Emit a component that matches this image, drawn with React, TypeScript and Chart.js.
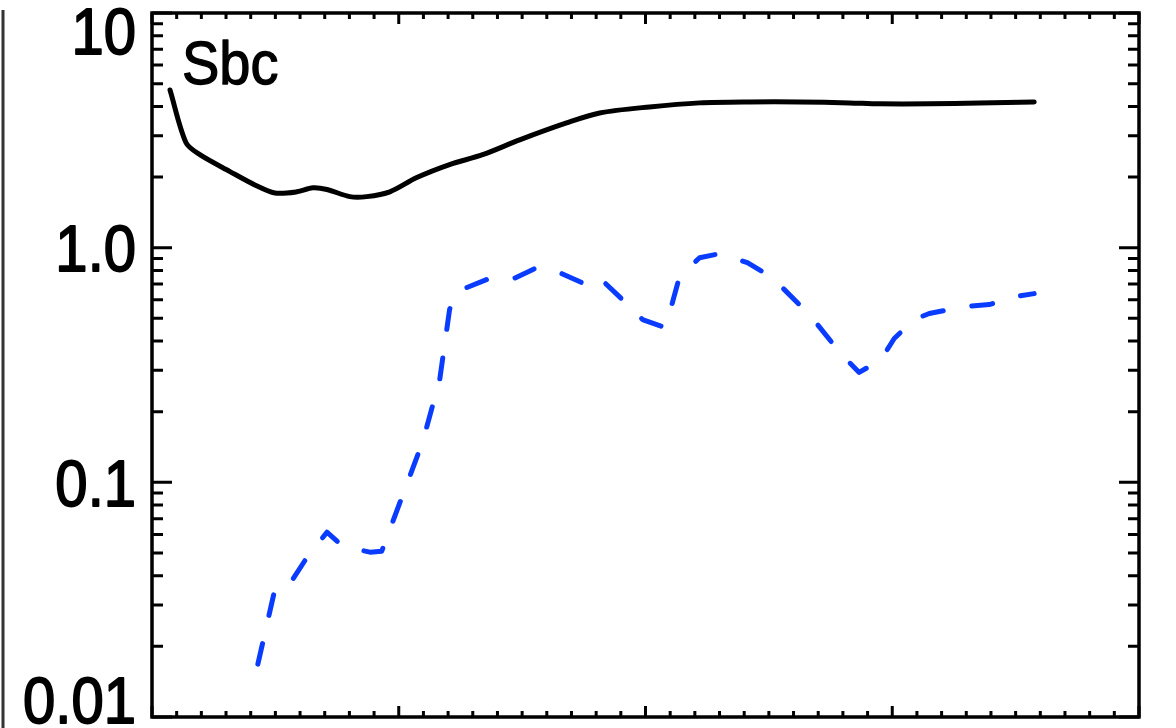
import React, { useEffect, useRef } from "react";
import { Chart, registerables } from "chart.js";

Chart.register(...registerables);

// ---- data ----
const solidX = [0.073, 0.138, 0.194, 0.316, 0.417, 0.498, 0.587, 0.652, 0.709, 0.802, 0.870, 0.964, 1.073, 1.206, 1.340, 1.490, 1.680, 1.814, 2.016, 2.219, 2.421, 2.623, 2.826, 2.947, 3.150, 3.352, 3.575];
const solidY = [4.7, 2.80, 2.49, 2.11, 1.85, 1.71, 1.73, 1.80, 1.77, 1.65, 1.65, 1.73, 1.99, 2.26, 2.49, 2.88, 3.40, 3.75, 3.98, 4.14, 4.18, 4.18, 4.14, 4.10, 4.10, 4.14, 4.18];

const dashX = [0.429, 0.502, 0.571, 0.623, 0.709, 0.773, 0.883, 0.931, 1.097, 1.166, 1.206, 1.227, 1.255, 1.356, 1.457, 1.559, 1.652, 1.741, 1.785, 1.834, 1.915, 1.988, 2.077, 2.109, 2.138, 2.219, 2.300, 2.413, 2.514, 2.664, 2.798, 2.866, 2.955, 3.008, 3.089, 3.150, 3.291, 3.393, 3.502, 3.575];
const dashY = [0.0168, 0.0365, 0.0387, 0.047, 0.0613, 0.0534, 0.0504, 0.0509, 0.149, 0.274, 0.545, 0.631, 0.663, 0.731, 0.731, 0.822, 0.783, 0.710, 0.760, 0.710, 0.589, 0.494, 0.457, 0.583, 0.753, 0.906, 0.943, 0.863, 0.745, 0.519, 0.347, 0.294, 0.334, 0.410, 0.494, 0.524, 0.561, 0.572, 0.619, 0.637];

const yTickValues = [10, 1, 0.1, 0.01];
const yTickLabels = ["10", "1.0", "0.1", "0.01"];
const xMajorTicks = [0, 1, 2, 3, 4];
const panelLabel = "Sbc";

const X_MIN = 0;
const X_MAX = 4;
const Y_MIN = 0.01;
const Y_MAX = 10;

const FONT = "'Liberation Sans', Arial, Helvetica, sans-serif";

const framePlugin = {
  id: "idlFrame",
  afterDatasetsDraw(chart: any) {
    const ctx = chart.ctx as CanvasRenderingContext2D;
    const { left, right, top, bottom } = chart.chartArea;
    const xs = chart.scales.x;
    const ys = chart.scales.y;
    ctx.save();
    ctx.strokeStyle = "#000";
    ctx.lineCap = "butt";

    // y ticks (log): majors and minors, inward on both sides
    ctx.lineWidth = 3;
    for (let k = -2; k <= 1; k++) {
      for (let m = 1; m <= 9; m++) {
        const v = m * Math.pow(10, k);
        if (v < Y_MIN - 1e-9 || v > Y_MAX + 1e-9) continue;
        const py = ys.getPixelForValue(v);
        const len = m === 1 ? 20 : 11;
        ctx.beginPath();
        ctx.moveTo(left, py);
        ctx.lineTo(left + len, py);
        ctx.moveTo(right, py);
        ctx.lineTo(right - len, py);
        ctx.stroke();
      }
    }
    // x ticks: majors and minors (0.1), inward top and bottom
    for (let i = 0; i <= Math.round((X_MAX - X_MIN) * 10); i++) {
      const v = X_MIN + i / 10;
      const isMajor = xMajorTicks.some((t) => Math.abs(t - v) < 1e-6);
      const px = xs.getPixelForValue(v);
      const len = isMajor ? 11 : 6;
      ctx.beginPath();
      ctx.moveTo(px, bottom);
      ctx.lineTo(px, bottom - len);
      ctx.moveTo(px, top);
      ctx.lineTo(px, top + len);
      ctx.stroke();
    }
    // frame
    ctx.lineWidth = 3.5;
    ctx.strokeRect(left, top, right - left, bottom - top);

    // fragment of the neighbouring panel's right axis
    ctx.strokeStyle = "#333";
    ctx.lineWidth = 3;
    ctx.beginPath();
    ctx.moveTo(3, top - 3);
    ctx.lineTo(3, chart.height);
    ctx.stroke();

    // y tick labels
    ctx.fillStyle = "#000";
    ctx.strokeStyle = "#000";
    ctx.lineWidth = 1.6;
    ctx.lineJoin = "round";
    ctx.textAlign = "right";
    ctx.textBaseline = "alphabetic";
    const fs = 58;
    const sy = 1.12;
    ctx.font = `${fs}px ${FONT}`;
    const cap = fs * 0.716 * sy;
    yTickValues.forEach((v, i) => {
      const py = ys.getPixelForValue(v);
      let base = py + cap / 2;
      if (base - cap < 7) base = 7 + cap;
      if (base > 723) base = 723;
      ctx.save();
      ctx.translate(136, base);
      ctx.scale(1, sy);
      ctx.fillText(yTickLabels[i], 0, 0);
      ctx.strokeText(yTickLabels[i], 0, 0);
      ctx.restore();
    });

    // panel label
    ctx.textAlign = "left";
    ctx.font = `56px ${FONT}`;
    ctx.lineWidth = 1.2;
    ctx.save();
    ctx.translate(left + 30, top + 71);
    ctx.scale(1, 1.08);
    ctx.fillText(panelLabel, 0, 0);
    ctx.strokeText(panelLabel, 0, 0);
    ctx.restore();
    ctx.restore();
  },
};

export default function App() {
  const canvasRef = useRef<HTMLCanvasElement | null>(null);

  useEffect(() => {
    document.body.style.margin = "0";
    const canvas = canvasRef.current;
    if (!canvas) return;
    const chart = new Chart(canvas, {
      type: "line",
      data: {
        datasets: [
          {
            label: "solid",
            data: solidX.map((x, i) => ({ x, y: solidY[i] })),
            borderColor: "#000000",
            borderWidth: 5,
            pointRadius: 0,
            tension: 0.3,
            fill: false,
            borderCapStyle: "round",
            borderJoinStyle: "round",
          },
          {
            label: "dashed",
            data: dashX.map((x, i) => ({ x, y: dashY[i] })),
            borderColor: "#0a3cff",
            borderWidth: 5,
            pointRadius: 0,
            tension: 0,
            fill: false,
            borderDash: [21, 29],
            borderCapStyle: "round",
            borderJoinStyle: "round",
          },
        ],
      },
      options: {
        animation: false,
        responsive: false,
        devicePixelRatio: 1,
        layout: { padding: { left: 152, right: 37, top: 13, bottom: 11 } },
        plugins: {
          legend: { display: false },
          tooltip: { enabled: false },
          title: { display: false },
        },
        scales: {
          x: { type: "linear", min: X_MIN, max: X_MAX, display: false },
          y: { type: "logarithmic", min: Y_MIN, max: Y_MAX, display: false },
        },
      },
      plugins: [framePlugin],
    });
    return () => chart.destroy();
  }, []);

  return (
    <div style={{ position: "absolute", left: 0, top: 0, width: 1176, height: 728, background: "#fff" }}>
      <canvas ref={canvasRef} width={1176} height={728} />
    </div>
  );
}
